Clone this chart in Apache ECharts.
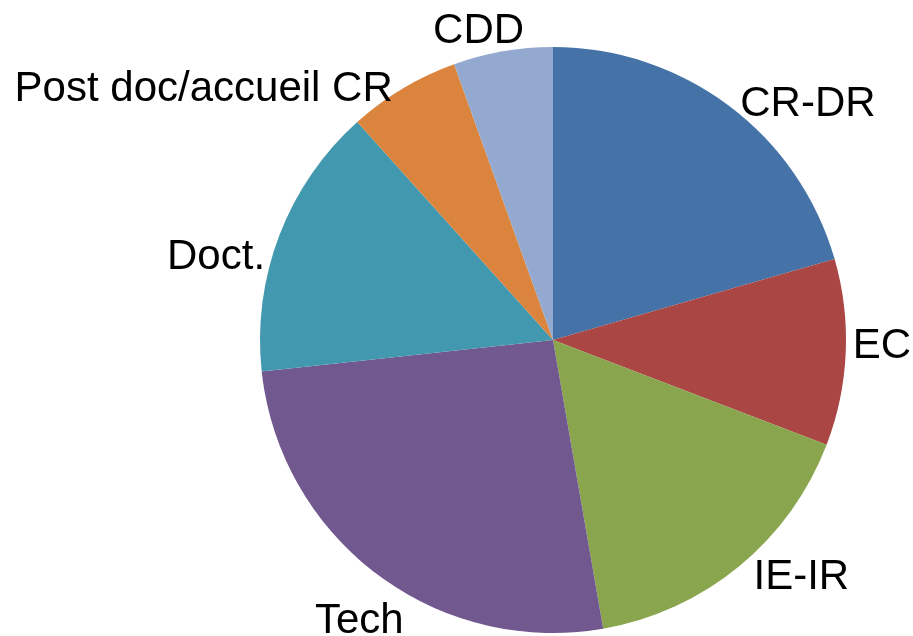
<!DOCTYPE html>
<html>
<head>
<meta charset="utf-8">
<script src="https://cdn.jsdelivr.net/npm/echarts@6/dist/echarts.min.js"></script>
<style>html,body{margin:0;padding:0;background:#fff;}#c{width:913px;height:636px;}</style>
</head>
<body>
<div id="c"></div>
<script>
const categories = ['CR-DR', 'EC', 'IE-IR', 'Tech', 'Doct.', 'Post doc/accueil CR', 'CDD'];
const values = [30, 15, 24, 38, 22, 9, 8];
const colors = ['#4572A7', '#AA4643', '#89A54E', '#71588F', '#4198AF', '#DB843D', '#93A9CF'];

// small style nudges of the library-computed label positions
const labelNudge = [[0, 6], [-8, -7], [3, 3], [38, 39], [0, 26], [0, 10], [28, -10]];

const chart = echarts.init(document.getElementById('c'), null, {renderer: 'canvas'});
chart.setOption({
  animation: false,
  backgroundColor: '#ffffff',
  series: [{
    type: 'pie',
    center: [553, 340],
    radius: 293,
    startAngle: 90,
    clockwise: true,
    avoidLabelOverlap: false,
    data: categories.map((n, i) => ({name: n, value: values[i], itemStyle: {color: colors[i]}})),
    itemStyle: {borderWidth: 0},
    label: {
      show: true,
      position: 'outside',
      formatter: '{b}',
      color: '#000',
      fontFamily: 'Liberation Sans',
      fontSize: 42,
      distanceToLabelLine: 5
    },
    labelLine: {show: false, length: 10, length2: 0},
    labelLayout: function (p) {
      const n = labelNudge[p.dataIndex] || [0, 0];
      return {dx: n[0], dy: n[1]};
    },
    emphasis: {disabled: true}
  }]
});
</script>
</body>
</html>
